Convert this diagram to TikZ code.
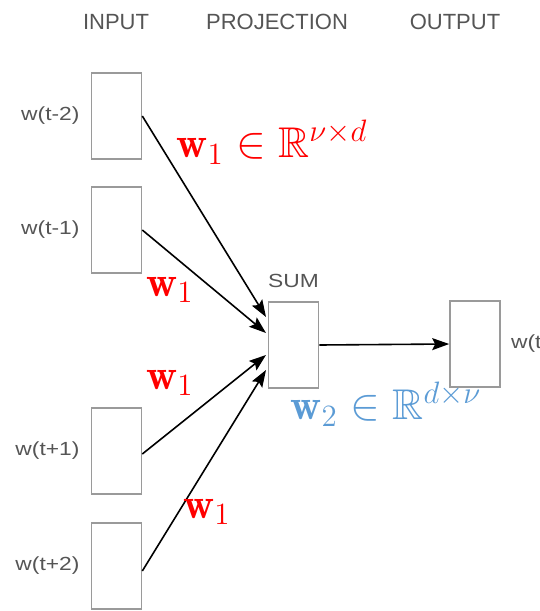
\documentclass[tikz,border=0pt]{standalone}
\usepackage{amssymb}
\usepackage{amsmath}
\usepackage{fontspec}
\usepackage{tikz}
\usetikzlibrary{positioning, arrows.meta}

\newfontfamily\labelfont{Liberation Sans}
\definecolor{boxgray}{HTML}{9A9A9A}
\definecolor{textgray}{HTML}{555555}
\definecolor{wred}{HTML}{FF0000}
\definecolor{wblue}{HTML}{5B9BD5}

\begin{document}
\begin{tikzpicture}[
            x=1pt, y=-1pt,
            vec/.style={draw=boxgray, line width=1.6pt, fill=white, minimum width=50pt, minimum height=86pt, inner sep=0pt}, % word vector boxes
            wlabel/.style={text=textgray, font=\labelfont\fontsize{19}{22}\selectfont, inner sep=0pt, xscale=1.2, transform shape}, % w(t+-k) labels
            head/.style={text=textgray, font=\labelfont\fontsize{22}{24}\selectfont, inner sep=0pt}, % column titles
            wt/.style={font=\fontsize{20}{24}\selectfont, inner sep=0pt, scale=2.15, transform shape}, % weight matrices
            link/.style={line width=1.6pt, -{Stealth[length=17pt, width=12pt, inset=3pt]}}
            ]

        \useasboundingbox (0,0) rectangle (539,611);

        % column titles
        \node[head] (tin) at (116,22) {INPUT};
        \node[head] (tproj) at (277,22) {PROJECTION};
        \node[head] (tout) at (455,22) {OUTPUT};

        % context words
        \node[vec] (in1) at (116.5,116) {};
        \node[vec] (in2) at (116.5,230) {};
        \node[vec] (in3) at (116.5,451) {};
        \node[vec] (in4) at (116.5,566) {};
        \node[wlabel, left=11pt of in1] {w(t-2)};
        \node[wlabel, left=11pt of in2] {w(t-1)};
        \node[wlabel, left=11pt of in3] {w(t+1)};
        \node[wlabel, left=11pt of in4] {w(t+2)};

        % projection and output
        \node[vec] (sum) at (293.5,345) {};
        \node[wlabel, above=13pt of sum] {SUM};
        \node[vec] (out) at (475,344) {};
        \node[wlabel, right=10pt of out] {w(t)};

        \coordinate (s1) at (266,317);
        \coordinate (s2) at (266,333);
        \coordinate (s3) at (266,355);
        \coordinate (s4) at (266,370);

        \draw[link] (in1.east) -- (s1);
        \draw[link] (in2.east) -- (s2);
        \draw[link] ([yshift=-3pt]in3.east) -- (s3);
        \draw[link] ([yshift=-5pt]in4.east) -- (s4);
        \draw[link] (sum.east) -- (out.west);

        % shared input weights
        \node[wt, text=wred] (w1a) at (272,142) {$\mathbf{w}_1 \in \mathbb{R}^{\nu\times d}$};
        \node[wt, text=wred] (w1b) at (170,290) {$\mathbf{w}_1$};
        \node[wt, text=wred] (w1c) at (170,383) {$\mathbf{w}_1$};
        \node[wt, text=wred] (w1d) at (207,512) {$\mathbf{w}_1$};
        % output weights
        \node[wt, text=wblue] (w2) at (386,404) {$\mathbf{w}_2 \in \mathbb{R}^{d\times \nu}$};

\end{tikzpicture}
\end{document}
